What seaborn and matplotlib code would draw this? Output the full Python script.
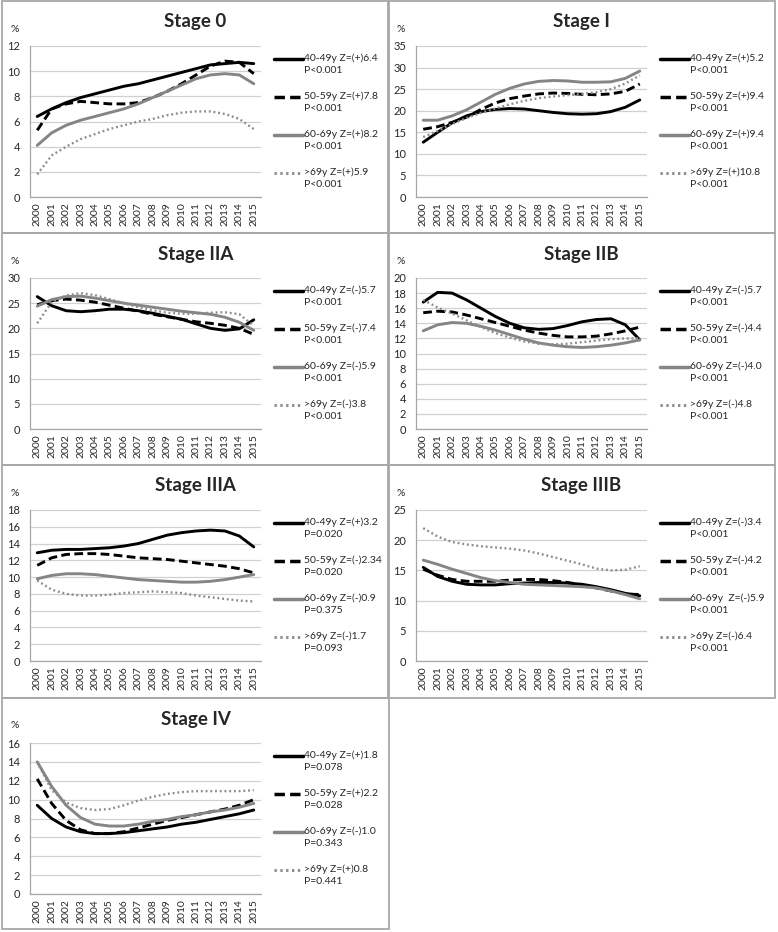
import numpy as np
import pandas as pd
import seaborn as sns
import matplotlib.pyplot as plt
from matplotlib.patches import Rectangle
from matplotlib.ticker import MultipleLocator

sns.set_style("white")
plt.rcParams['font.family'] = ['Lato', 'DejaVu Sans']

years = list(range(2000, 2016))
groups = ['40-49y', '50-59y', '60-69y', '>69y']

# ---------------------------
# 各阶段数据
stage0_4049 = [6.4, 7.0, 7.5, 7.9, 8.2, 8.5, 8.8, 9.0, 9.3, 9.6, 9.9, 10.2, 10.5, 10.6, 10.7, 10.6]
stage0_5059 = [5.3, 7.0, 7.4, 7.6, 7.5, 7.4, 7.4, 7.5, 7.9, 8.4, 9.0, 9.7, 10.4, 10.8, 10.7, 9.8]
stage0_6069 = [4.1, 5.1, 5.7, 6.1, 6.4, 6.7, 7.0, 7.4, 7.9, 8.4, 8.9, 9.4, 9.7, 9.8, 9.7, 9.0]
stage0_gt69 = [1.8, 3.3, 4.0, 4.6, 5.0, 5.4, 5.7, 6.0, 6.2, 6.5, 6.7, 6.8, 6.8, 6.6, 6.2, 5.4]

stage1_4049 = [12.7, 15.0, 17.2, 18.8, 19.8, 20.3, 20.5, 20.4, 20.0, 19.6, 19.3, 19.2, 19.3, 19.8, 20.8, 22.5]
stage1_5059 = [15.7, 16.3, 17.3, 18.5, 20.3, 21.8, 22.8, 23.4, 23.9, 24.1, 24.0, 23.8, 23.7, 23.9, 24.5, 26.2]
stage1_6069 = [17.8, 17.8, 18.8, 20.2, 22.0, 23.8, 25.2, 26.2, 26.8, 27.0, 26.9, 26.6, 26.6, 26.7, 27.5, 29.2]
stage1_gt69 = [13.9, 15.3, 16.9, 18.3, 19.5, 20.5, 21.5, 22.3, 22.9, 23.3, 23.6, 23.9, 24.3, 25.0, 26.3, 28.2]

stage2a_4049 = [26.3, 24.5, 23.5, 23.3, 23.5, 23.8, 23.8, 23.5, 23.0, 22.4, 21.8, 20.9, 20.0, 19.6, 19.9, 21.7]
stage2a_5059 = [24.7, 25.5, 25.8, 25.6, 25.2, 24.6, 24.0, 23.4, 22.8, 22.3, 21.8, 21.3, 21.0, 20.6, 20.0, 18.8]
stage2a_6069 = [24.4, 25.7, 26.3, 26.4, 26.0, 25.5, 25.0, 24.6, 24.2, 23.8, 23.4, 23.1, 22.8, 22.2, 21.2, 19.6]
stage2a_gt69 = [21.0, 25.2, 26.5, 27.0, 26.6, 25.8, 25.0, 24.2, 23.6, 23.1, 22.9, 22.9, 23.1, 23.2, 22.8, 20.5]

stage2b_4049 = [16.8, 18.1, 18.0, 17.1, 16.0, 14.9, 14.0, 13.4, 13.2, 13.3, 13.7, 14.2, 14.5, 14.6, 13.8, 11.8]
stage2b_5059 = [15.4, 15.6, 15.5, 15.1, 14.6, 14.1, 13.6, 13.1, 12.7, 12.4, 12.2, 12.2, 12.3, 12.6, 13.0, 13.5]
stage2b_6069 = [13.0, 13.8, 14.1, 14.0, 13.6, 13.1, 12.5, 11.9, 11.4, 11.1, 10.9, 10.8, 10.9, 11.1, 11.4, 11.8]
stage2b_gt69 = [17.1, 16.1, 15.3, 14.4, 13.5, 12.7, 12.1, 11.6, 11.3, 11.2, 11.3, 11.5, 11.7, 11.9, 12.0, 12.0]

stage3a_4049 = [12.9, 13.2, 13.3, 13.3, 13.4, 13.5, 13.7, 14.0, 14.5, 15.0, 15.3, 15.5, 15.6, 15.5, 14.9, 13.6]
stage3a_5059 = [11.4, 12.3, 12.7, 12.8, 12.8, 12.7, 12.5, 12.3, 12.2, 12.1, 11.9, 11.7, 11.5, 11.3, 11.0, 10.5]
stage3a_6069 = [9.8, 10.2, 10.4, 10.4, 10.3, 10.1, 9.9, 9.7, 9.6, 9.5, 9.4, 9.4, 9.5, 9.7, 10.0, 10.3]
stage3a_gt69 = [9.6, 8.5, 8.0, 7.8, 7.8, 7.9, 8.1, 8.2, 8.3, 8.2, 8.1, 7.8, 7.6, 7.4, 7.2, 7.1]

stage3b_4049 = [15.5, 14.0, 13.2, 12.7, 12.6, 12.6, 12.8, 12.9, 13.0, 13.0, 12.9, 12.7, 12.3, 11.8, 11.2, 10.8]
stage3b_5059 = [15.2, 14.2, 13.5, 13.2, 13.2, 13.2, 13.4, 13.5, 13.5, 13.3, 13.0, 12.6, 12.1, 11.6, 11.1, 11.0]
stage3b_6069 = [16.7, 16.0, 15.2, 14.5, 13.8, 13.3, 13.0, 12.7, 12.6, 12.5, 12.4, 12.3, 12.1, 11.6, 11.0, 10.3]
stage3b_gt69 = [22.0, 20.6, 19.7, 19.3, 19.0, 18.8, 18.6, 18.3, 17.8, 17.2, 16.6, 16.0, 15.3, 15.0, 15.1, 15.7]

stage4_4049 = [9.4, 8.0, 7.1, 6.6, 6.4, 6.4, 6.5, 6.7, 6.9, 7.1, 7.4, 7.6, 7.9, 8.2, 8.5, 8.9]
stage4_5059 = [12.2, 9.6, 7.8, 6.8, 6.4, 6.4, 6.6, 7.0, 7.4, 7.8, 8.1, 8.4, 8.7, 9.0, 9.4, 10.0]
stage4_6069 = [14.0, 11.4, 9.4, 8.1, 7.4, 7.2, 7.2, 7.4, 7.7, 7.9, 8.2, 8.4, 8.7, 8.9, 9.2, 9.6]
stage4_gt69 = [14.0, 11.0, 9.7, 9.1, 8.9, 9.0, 9.4, 9.9, 10.3, 10.6, 10.8, 10.9, 10.9, 10.9, 10.9, 11.0]

# 图例文字
labels0 = ['40-49y Z=(+)6.4\nP<0.001', '50-59y Z=(+)7.8\nP<0.001',
           '60-69y Z=(+)8.2\nP<0.001', '>69y Z=(+)5.9\nP<0.001']
labels1 = ['40-49y Z=(+)5.2\nP<0.001', '50-59y Z=(+)9.4\nP<0.001',
           '60-69y Z=(+)9.4\nP<0.001', '>69y Z=(+)10.8\nP<0.001']
labels2a = ['40-49y Z=(-)5.7\nP<0.001', '50-59y Z=(-)7.4\nP<0.001',
            '60-69y Z=(-)5.9\nP<0.001', '>69y Z=(-)3.8\nP<0.001']
labels2b = ['40-49y Z=(-)5.7\nP<0.001', '50-59y Z=(-)4.4\nP<0.001',
            '60-69y Z=(-)4.0\nP<0.001', '>69y Z=(-)4.8\nP<0.001']
labels3a = ['40-49y Z=(+)3.2\nP=0.020', '50-59y Z=(-)2.34\nP=0.020',
            '60-69y Z=(-)0.9\nP=0.375', '>69y Z=(-)1.7\nP=0.093']
labels3b = ['40-49y Z=(-)3.4\nP<0.001', '50-59y Z=(-)4.2\nP<0.001',
            '60-69y  Z=(-)5.9\nP<0.001', '>69y Z=(-)6.4\nP<0.001']
labels4 = ['40-49y Z=(+)1.8\nP=0.078', '50-59y Z=(+)2.2\nP=0.028',
           '60-69y Z=(-)1.0\nP=0.343', '>69y Z=(+)0.8\nP=0.441']

panels = [
    ('Stage 0', 0, 0, [stage0_4049, stage0_5059, stage0_6069, stage0_gt69], labels0, 12, 2),
    ('Stage I', 1, 0, [stage1_4049, stage1_5059, stage1_6069, stage1_gt69], labels1, 35, 5),
    ('Stage IIA', 0, 1, [stage2a_4049, stage2a_5059, stage2a_6069, stage2a_gt69], labels2a, 30, 5),
    ('Stage IIB', 1, 1, [stage2b_4049, stage2b_5059, stage2b_6069, stage2b_gt69], labels2b, 20, 2),
    ('Stage IIIA', 0, 2, [stage3a_4049, stage3a_5059, stage3a_6069, stage3a_gt69], labels3a, 18, 2),
    ('Stage IIIB', 1, 2, [stage3b_4049, stage3b_5059, stage3b_6069, stage3b_gt69], labels3b, 25, 5),
    ('Stage IV', 0, 3, [stage4_4049, stage4_5059, stage4_6069, stage4_gt69], labels4, 16, 2),
]

# 线型
palette = {'40-49y': '#000000', '50-59y': '#000000', '60-69y': '#858585', '>69y': '#8c8c8c'}
dashes = {'40-49y': '', '50-59y': (3.0, 1.5), '60-69y': '', '>69y': (0.8, 1.2)}
lws = {'40-49y': 2.1, '50-59y': 2.1, '60-69y': 2.1, '>69y': 1.7}

W, H = 778, 932
fig = plt.figure(figsize=(W / 100, H / 100), dpi=100)

col_left = [2, 388]
col_w = 387
row_top = [1, 233, 465, 698]
row_h = [232, 232, 233, 231]

grid_c = '#d0d0d0'
axis_c = '#a6a6a6'

for title, col, row, series, labels, ymax, ystep in panels:
    px, py, pw, ph = col_left[col], row_top[row], col_w, row_h[row]
    # 面板边框
    fig.add_artist(Rectangle((px / W, 1 - (py + ph) / H), pw / W, ph / H,
                             transform=fig.transFigure, fill=False,
                             edgecolor='#a8a8a8', linewidth=1.3))
    ax_l, ax_r = px + 28, px + 259
    ax_t, ax_b = py + 45, py + 196
    ax = fig.add_axes([ax_l / W, 1 - ax_b / H, (ax_r - ax_l) / W, (ax_b - ax_t) / H])

    df = pd.DataFrame({
        'year': years * 4,
        'value': sum(series, []),
        'group': [g for g in groups for _ in years],
    })
    for g in groups:
        sub = df[df['group'] == g]
        sns.lineplot(data=sub, x='year', y='value', ax=ax, color=palette[g],
                     linewidth=lws[g], dashes=False, legend=False, zorder=3)
        line = ax.lines[-1]
        if dashes[g]:
            line.set_dashes(dashes[g])
            line.set_dash_capstyle('butt')

    ax.set_xlim(1999.5, 2015.5)
    ax.set_ylim(0, ymax)
    ax.yaxis.set_major_locator(MultipleLocator(ystep))
    ax.set_xticks(years)
    ax.set_xticklabels([str(y) for y in years], rotation=90)
    ax.set_xticks(np.arange(1999.5, 2016, 1), minor=True)
    ax.tick_params(axis='x', which='major', length=0, labelsize=7.5, pad=4)
    ax.tick_params(axis='x', which='minor', length=4, width=0.8, color=axis_c, direction='out')
    ax.tick_params(axis='y', which='major', length=4, width=0.8, color=axis_c,
                   direction='out', labelsize=8, pad=3)
    ax.grid(axis='y', color=grid_c, linewidth=0.9)
    ax.set_axisbelow(True)
    for s in ['top', 'right']:
        ax.spines[s].set_visible(False)
    for s in ['left', 'bottom']:
        ax.spines[s].set_color(axis_c)
        ax.spines[s].set_linewidth(0.9)
    ax.set_xlabel('')
    ax.set_ylabel('')

    # 标题和 % 标签
    fig.text((px + pw / 2) / W, 1 - (py + 21) / H, title, ha='center', va='center',
             fontsize=13.5, fontweight='bold')
    fig.text((px + 13) / W, 1 - (py + 28) / H, '%', ha='center', va='center', fontsize=7.5)

    # 图例
    for i, g in enumerate(groups):
        yy = 1 - (py + 58 + 38 * i) / H
        x0, x1 = (px + 272) / W, (px + 301) / W
        ln = plt.Line2D([x0, x1], [yy, yy], transform=fig.transFigure,
                        color=palette[g], linewidth=lws[g] + 0.4)
        if dashes[g]:
            ln.set_dashes(dashes[g])
        fig.add_artist(ln)
        fig.text((px + 302) / W, yy + 6 / H, labels[i], ha='left', va='top',
                 fontsize=7.5, linespacing=1.55)

fig.savefig('out.png', dpi=100)
